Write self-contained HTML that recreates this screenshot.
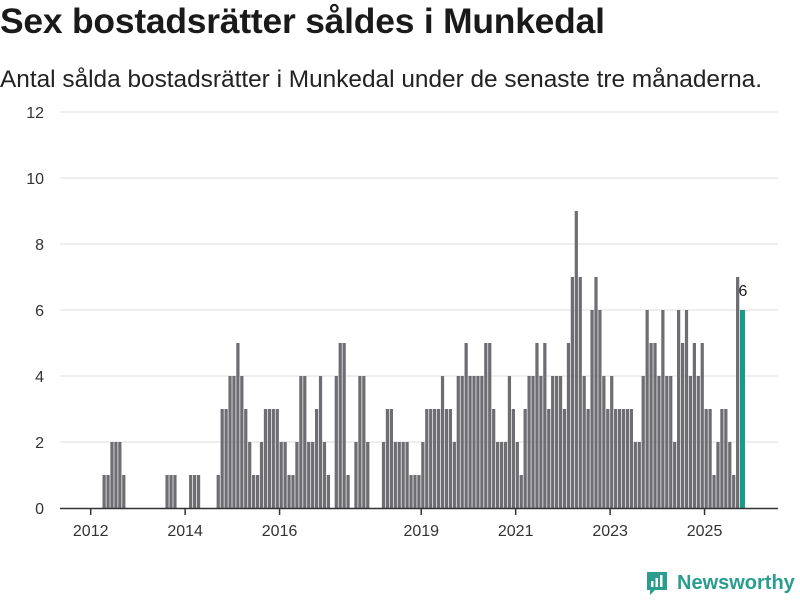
<!DOCTYPE html>
<html><head><meta charset="utf-8"><style>
body{margin:0;background:#fff;width:800px;height:600px;overflow:hidden;font-family:"Liberation Sans",sans-serif;}
#title{position:absolute;left:0px;top:1px;font-size:35.4px;font-weight:bold;color:#1a1a1a;margin:0;letter-spacing:-0.2px}
#sub{position:absolute;left:0px;top:66px;font-size:24.4px;color:#222;margin:0}
svg{position:absolute;left:0;top:0}
</style></head><body>
<h1 id="title">Sex bostadsrätter såldes i Munkedal</h1>
<p id="sub">Antal sålda bostadsrätter i Munkedal under de senaste tre månaderna.</p>
<svg id="chart" width="800" height="600"></svg>
<script>
// monthly values, first bar = Apr 2012
const values=[1,1,2,2,2,1,0,0,0,0,0,0,0,0,0,0,1,1,1,0,0,0,1,1,1,0,0,0,0,1,3,3,4,4,5,4,3,2,1,1,2,3,3,3,3,2,2,1,1,2,4,4,2,2,3,4,2,1,0,4,5,5,1,0,2,4,4,2,0,0,0,2,3,3,2,2,2,2,1,1,1,2,3,3,3,3,4,3,3,2,4,4,5,4,4,4,4,5,5,3,2,2,2,4,3,2,1,3,4,4,5,4,5,3,4,4,4,3,5,7,9,7,4,3,6,7,6,4,3,4,3,3,3,3,3,2,2,4,6,5,5,4,6,4,4,2,6,5,6,4,5,4,5,3,3,1,2,3,3,2,1,7,6];
const yTicks=[0,2,4,6,8,10,12];
const xTickYears=[2012,2014,2016,2019,2021,2023,2025];
const NS="http://www.w3.org/2000/svg";
const svg=document.getElementById('chart');
const step=3.935, x0=102.5;
function xScale(k){return x0+k*step;}
function yearToK(y){return (y-2012)*12-3;}
function yScale(v){return 508-v*33;}
function mk(t,a){const e=document.createElementNS(NS,t);for(const k in a)e.setAttribute(k,a[k]);svg.appendChild(e);return e;}
yTicks.forEach(t=>{
  if(t>0){const g=mk('line',{x1:60,x2:778,y1:yScale(t),y2:yScale(t),stroke:'#dcdcdc','stroke-width':1});
  
  }
  const l=mk('text',{x:44,y:yScale(t)+6,'text-anchor':'end','font-size':16,fill:'#333','font-family':'Liberation Sans, sans-serif'});
  l.textContent=t;
  
  
});
const last=values.length-1;
values.forEach((v,i)=>{
  if(v<=0)return;
  const r=mk('rect',{x:xScale(i),y:yScale(v),width:i===last?5:step-0.7,height:v*33,fill:i===last?'#1a9a8a':'#6e6d72'});
  
  
});
const lv=mk('text',{x:xScale(last)+3,y:yScale(values[last])-14,'text-anchor':'middle','font-size':16,fill:'#222','font-family':'Liberation Sans, sans-serif'});
lv.textContent=values[last];


const ax=mk('line',{x1:60,x2:778,y1:508.5,y2:508.5,stroke:'#333','stroke-width':1.5});


xTickYears.forEach(y=>{
  const x=xScale(yearToK(y));
  const tk=mk('line',{x1:x,x2:x,y1:509,y2:515,stroke:'#333','stroke-width':1.5});
  
  
  const l=mk('text',{x:x,y:536,'text-anchor':'middle','font-size':16,fill:'#333','font-family':'Liberation Sans, sans-serif'});
  l.textContent=y;
  
  
});
</script>
<div style="position:absolute;left:645px;top:570px;display:flex;align-items:center">
<svg width="24" height="26" viewBox="0 0 24 26" style="position:static"><path d="M2 2h20v18H10l-5 5v-5H2z" fill="#2a9d8f"/><rect x="6" y="11" width="2.5" height="6" fill="#fff"/><rect x="10.5" y="8" width="2.5" height="9" fill="#fff"/><rect x="15" y="5" width="2.5" height="12" fill="#fff"/></svg>
<span style="margin-left:8px;font-size:20px;font-weight:bold;color:#2a9d8f">Newsworthy</span></div>
</body></html>
